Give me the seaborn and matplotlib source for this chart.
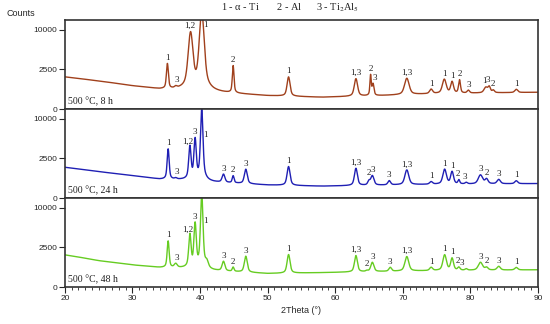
import numpy as np
import pandas as pd
import matplotlib
matplotlib.use("Agg")
import matplotlib.pyplot as plt
import seaborn as sns

# 2theta grid for the traces
theta = np.arange(20, 90.001, 0.02)

# background level (counts) read at these angles
bg_theta = [20, 25, 30, 34, 38, 42, 50, 58, 66, 75, 90]
bg_8h = [1650, 1250, 860, 630, 560, 430, 280, 220, 280, 380, 450]
bg_24h = [1510, 1110, 800, 570, 520, 400, 270, 225, 260, 300, 335]
bg_48h = [1650, 1110, 780, 610, 560, 420, 290, 330, 380, 430, 475]

# peaks: position (deg), top (counts), width (deg)
pos_8h = [35.17, 36.4, 38.6, 40.25, 44.9, 53.1, 63.07, 65.24, 65.6, 70.6, 74.2,
          76.15, 77.3, 78.4, 79.7, 82.3, 82.8, 83.4, 86.8]
top_8h = [3240, 700, 9250, 15000, 2960, 1640, 1470, 1850, 1000, 1510, 620,
          1410, 1190, 1350, 560, 750, 780, 560, 620]
fwhm_8h = [0.3, 0.4, 0.7, 0.7, 0.25, 0.45, 0.5, 0.2, 0.3, 0.7, 0.5,
           0.6, 0.45, 0.3, 0.4, 0.6, 0.4, 0.4, 0.5]

pos_24h = [35.28, 36.4, 38.5, 39.27, 40.25, 43.47, 44.9, 46.77, 53.1, 63.07, 65.0,
           65.5, 68.0, 70.6, 74.2, 76.2, 77.3, 78.3, 79.4, 81.5, 82.4, 84.2, 86.8]
top_24h = [3840, 610, 4270, 5580, 12600, 890, 775, 1320, 1580, 1410, 450,
           795, 475, 1260, 420, 1320, 1110, 515, 380, 850, 575, 550, 475]
fwhm_24h = [0.3, 0.4, 0.35, 0.35, 0.35, 0.45, 0.3, 0.45, 0.45, 0.45, 0.4,
            0.5, 0.45, 0.6, 0.5, 0.55, 0.45, 0.3, 0.4, 0.7, 0.5, 0.55, 0.5]

pos_48h = [35.28, 36.4, 38.5, 39.27, 40.25, 41.0, 43.47, 44.9, 46.77, 53.1, 63.07, 64.7,
           65.5, 68.15, 70.6, 74.2, 76.2, 77.3, 78.3, 79.4, 81.5, 82.4, 84.2, 86.8]
top_48h = [3370, 845, 4390, 6460, 14000, 900, 1030, 610, 1510, 1680, 1580, 420,
           970, 610, 1480, 610, 1650, 1320, 610, 520, 970, 610, 680, 610]
fwhm_48h = [0.3, 0.5, 0.35, 0.35, 0.35, 0.5, 0.45, 0.3, 0.45, 0.45, 0.45, 0.4,
            0.5, 0.45, 0.6, 0.5, 0.55, 0.45, 0.4, 0.4, 0.7, 0.5, 0.55, 0.5]

# phase labels above the peaks
lab_8h = ["1", "3", "1,2", "1", "2", "1", "1,3", "2", "3", "1,3", "1",
          "1", "1", "2", "3", "1", "3", "2", "1"]
lab_theta_8h = [35.17, 36.5, 38.55, 40.75, 44.9, 53.1, 63.1, 65.24, 65.8, 70.6, 74.2,
                76.15, 77.3, 78.4, 79.8, 82.1, 82.6, 83.4, 86.8]
lab_24h = ["1", "3", "1,2", "3", "1", "3", "2", "3", "1", "1,3", "2", "3",
           "3", "1,3", "1", "1", "1", "2", "3", "3", "2", "3", "1"]
lab_theta_24h = [35.28, 36.5, 38.15, 39.27, 40.75, 43.47, 44.9, 46.77, 53.1, 63.1, 64.95, 65.5,
                 68.0, 70.6, 74.2, 76.2, 77.3, 78.2, 79.2, 81.5, 82.4, 84.2, 86.8]
lab_48h = ["1", "3", "1,2", "3", "1", "3", "2", "3", "1", "1,3", "2", "3",
           "3", "1,3", "1", "1", "1", "2", "3", "3", "2", "3", "1"]
lab_theta_48h = [35.28, 36.5, 38.15, 39.2, 40.75, 43.47, 44.9, 46.77, 53.1, 63.1, 64.7, 65.5,
                 68.15, 70.6, 74.2, 76.2, 77.3, 78.2, 78.8, 81.5, 82.4, 84.2, 86.8]

panel_titles = ["500 °C, 8 h", "500 °C, 24 h", "500 °C, 48 h"]
colors = ["#a0401c", "#1f1fb4", "#66cc22"]


def pattern(bg_c, pos, top, fwhm):
    """Background plus pseudo-Voigt peaks"""
    bg = np.interp(theta, bg_theta, bg_c)
    y = bg.copy()
    for p, h, w in zip(pos, top, fwhm):
        amp = h - np.interp(p, bg_theta, bg_c)
        u = (theta - p) / (w / 2)
        y += amp * (0.5 / (1 + u ** 2) + 0.5 * np.exp(-np.log(2) * u ** 2))
    return y


sns.set_theme(style="ticks")
plt.rcParams["font.family"] = ["Liberation Sans", "DejaVu Sans"]
plt.rcParams["mathtext.fontset"] = "stix"

fig, axes = plt.subplots(3, 1, sharex=True, figsize=(5.5, 3.24), dpi=100,
                         gridspec_kw={"hspace": 0})
fig.subplots_adjust(left=0.118, right=0.978, top=0.938, bottom=0.114)

series = [
    (bg_8h, pos_8h, top_8h, fwhm_8h, lab_8h, lab_theta_8h),
    (bg_24h, pos_24h, top_24h, fwhm_24h, lab_24h, lab_theta_24h),
    (bg_48h, pos_48h, top_48h, fwhm_48h, lab_48h, lab_theta_48h),
]

ymax = 12600
for i, (ax, s) in enumerate(zip(axes, series)):
    bg_c, pos, top, fwhm, labs, lab_t = s
    counts = pattern(bg_c, pos, top, fwhm)
    df = pd.DataFrame({"theta": theta, "counts": counts})
    sns.lineplot(data=df, x="theta", y="counts", ax=ax, color=colors[i],
                 linewidth=1.0, estimator=None)
    ax.set_yscale("function", functions=(lambda v: np.sqrt(np.clip(v, 0, None)), np.square))
    ax.set_ylim(0, ymax)
    ax.set_xlim(20, 90)
    ax.set_yticks([0, 2500, 10000])
    ax.set_yticklabels(["0", "2500", "10000"])
    ax.minorticks_off()
    ax.set_xlabel("")
    ax.set_ylabel("")
    ax.tick_params(axis="y", direction="out", length=4, width=0.8, labelsize=6, pad=1.5)
    for sp in ax.spines.values():
        sp.set_visible(True)
        sp.set_color("#333333")
        sp.set_linewidth(1.2)

    # peak labels
    for txt, t in zip(labs, lab_t):
        win = (theta > t - 0.3) & (theta < t + 0.3)
        yv = min(counts[win].max(), 9800)
        ax.annotate(txt, (t, yv), xytext=(0, 1), textcoords="offset points",
                    ha="center", va="bottom", fontsize=6.5,
                    family="Liberation Serif", color="#222222")

    ax.text(0.006, 0.03, panel_titles[i], transform=ax.transAxes, ha="left", va="bottom",
            fontsize=7, family="Liberation Serif", color="#222222")

for ax in axes[:2]:
    ax.tick_params(axis="x", which="both", length=0, labelbottom=False)

axb = axes[2]
axb.set_xticks(range(20, 91, 10))
axb.set_xticks(range(20, 91, 1), minor=True)
axb.tick_params(axis="x", which="major", direction="out", length=4, width=0.8,
                labelsize=6, pad=1.5)
axb.tick_params(axis="x", which="minor", direction="out", length=2.5, width=0.6)
axb.set_xlabel("2Theta (°)", fontsize=6.5, labelpad=3)

fig.text(0.012, 0.957, "Counts", fontsize=6.5, ha="left", va="center")
fig.text(0.528, 0.975, "1 - α - Ti       2 - Al      3 - Ti$_2$Al$_5$", fontsize=7.5,
         family="Liberation Serif", ha="center", va="center", color="#222222")

fig.savefig("out.png", dpi=100)
